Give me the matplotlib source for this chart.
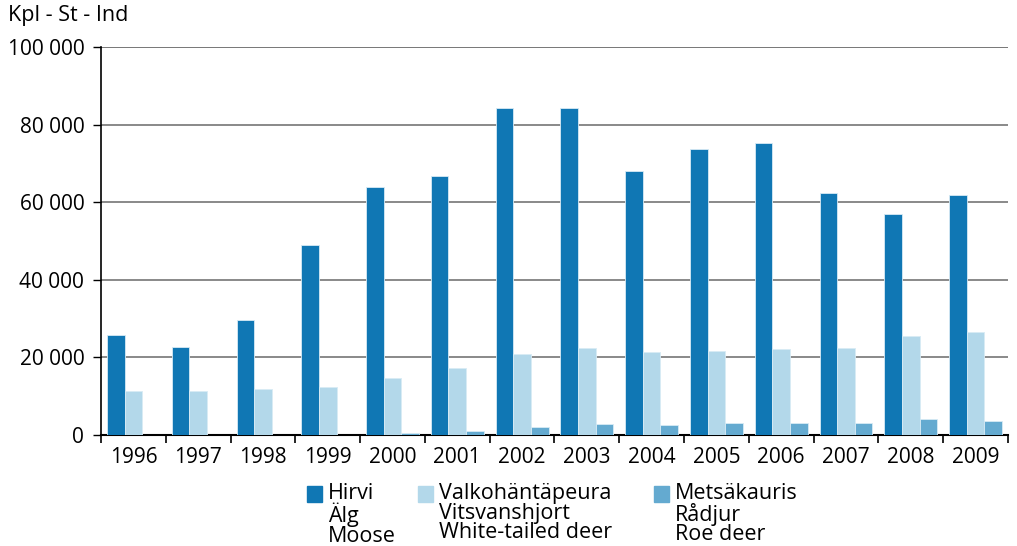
import numpy as np
import matplotlib.pyplot as plt
from matplotlib.patches import Rectangle

years = ['1996', '1997', '1998', '1999', '2000', '2001', '2002',
         '2003', '2004', '2005', '2006', '2007', '2008', '2009']
hirvi = [25800, 22700, 29700, 49000, 63900, 66800, 84300,
         84300, 68000, 73700, 75300, 62400, 57000, 61900]
valkohanta = [11300, 11300, 11800, 12400, 14700, 17300, 20800,
              22400, 21300, 21700, 22100, 22400, 25500, 26500]
metsakauris = [0, 0, 0, 0, 500, 950, 2050,
               2750, 2650, 3100, 3100, 3100, 4100, 3600]
labels = ['Hirvi\nÄlg\nMoose', 'Valkohäntäpeura\nVitsvanshjort\nWhite-tailed deer',
          'Metsäkauris\nRådjur\nRoe deer']
colors = ['#1077b4', '#b3d8ea', '#64aad0']

plt.rcParams['font.family'] = ['Open Sans', 'DejaVu Sans']

fig = plt.figure(figsize=(10.17, 5.46), dpi=100)
ax = fig.add_axes([0.0993, 0.2033, 0.8918, 0.7106])

x = np.arange(len(years))
w = 0.272
for i, (vals, c) in enumerate(zip([hirvi, valkohanta, metsakauris], colors)):
    vals = np.array(vals, dtype=float)
    vals[vals == 0] = np.nan
    ax.bar(x + (i - 1) * w, vals, w, color=c, edgecolor='#d8ebf5', linewidth=0.6, zorder=3)

ax.set_xlim(-0.5, len(years) - 0.5)
ax.set_ylim(0, 100000)
ax.set_yticks(np.arange(0, 100001, 20000))
ax.set_yticklabels([f'{v:,}'.replace(',', ' ') for v in range(0, 100001, 20000)], fontsize=15)
ax.set_xticks(x)
ax.set_xticklabels(years, fontsize=15)
ax.set_xticks(np.arange(-0.5, len(years)), minor=True)
ax.tick_params(axis='x', which='major', length=0, pad=9)
ax.tick_params(axis='x', which='minor', length=6, width=1.2, direction='out')
ax.tick_params(axis='y', length=6, width=1, pad=6)
ax.grid(axis='y', color='#808080', linewidth=1.3, zorder=0)
for s in ['top', 'right']:
    ax.spines[s].set_visible(False)
ax.spines['left'].set_linewidth(1.2)
ax.spines['bottom'].set_linewidth(1.5)
ax.axhline(100000, color='#333333', linewidth=1.3, zorder=1)

fig.text(8 / 1017, 1 - 16 / 546, 'Kpl - St - Ind', fontsize=15.5, va='center', ha='left')

# legend
leg_x = [307, 418, 654]
for lx, lab, c in zip(leg_x, labels, colors):
    fig.patches.append(Rectangle((lx / 1017, 1 - 502 / 546), 15 / 1017, 16 / 546,
                                 transform=fig.transFigure, color=c))
    fig.text((lx + 21) / 1017, 1 - 483 / 546, lab, fontsize=15.5, va='top', ha='left',
             linespacing=0.92)

fig.savefig('out.png', dpi=100)
